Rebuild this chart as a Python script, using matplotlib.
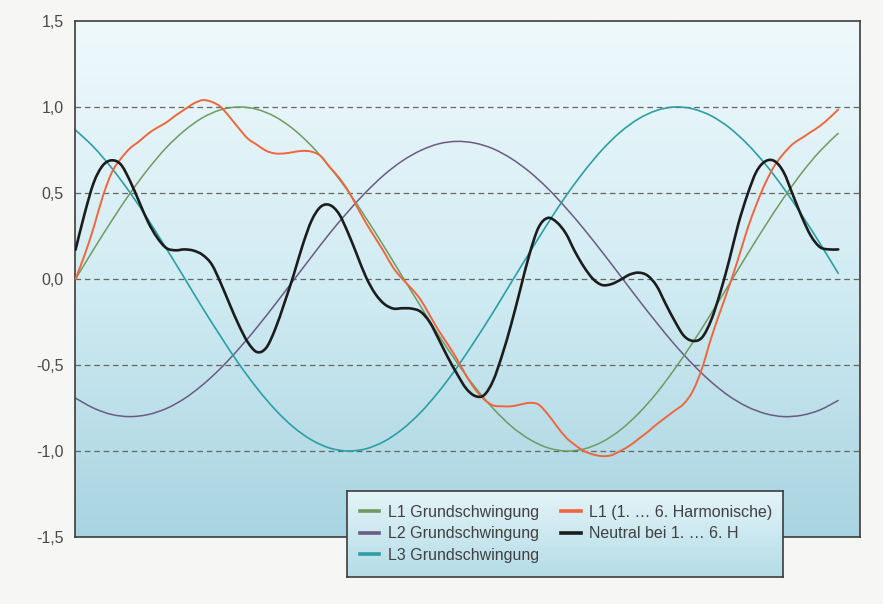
import numpy as np
import matplotlib
matplotlib.use("Agg")
import matplotlib.pyplot as plt
from matplotlib.lines import Line2D
from matplotlib.path import Path
from matplotlib.patches import PathPatch
from matplotlib.colors import LinearSegmentedColormap

plt.rcParams['font.family'] = ['Liberation Sans', 'DejaVu Sans']

# ---------------- data ----------------
winkel_grob = np.arange(0, 421, 10)   # 43 points
winkel_fein = np.arange(0, 421, 5)    # 85 points

l1_grund = [0.000, 0.173, 0.340, 0.498, 0.640, 0.764, 0.863, 0.938, 0.984, 1.000,
            0.986, 0.943, 0.871, 0.773, 0.651, 0.511, 0.354, 0.187, 0.014, -0.158,
            -0.327, -0.485, -0.629, -0.753, -0.856, -0.932, -0.981, -1.000, -0.988, -0.947,
            -0.878, -0.782, -0.663, -0.522, -0.368, -0.201, -0.030, 0.144, 0.312, 0.472,
            0.618, 0.744, 0.847]

l2_grund = [-0.693, -0.751, -0.788, -0.800, -0.788, -0.753, -0.695, -0.615, -0.518, -0.405,
            -0.280, -0.146, -0.008, 0.130, 0.266, 0.391, 0.506, 0.606, 0.687, 0.747,
            0.786, 0.800, 0.790, 0.757, 0.700, 0.623, 0.527, 0.414, 0.290, 0.157,
            0.019, -0.120, -0.254, -0.382, -0.497, -0.598, -0.681, -0.743, -0.783, -0.800,
            -0.792, -0.761, -0.706]

l3_grund = [0.866, 0.767, 0.644, 0.502, 0.345, 0.177, 0.005, -0.169, -0.335, -0.494,
            -0.636, -0.760, -0.861, -0.936, -0.983, -1.000, -0.987, -0.944, -0.873, -0.776,
            -0.655, -0.515, -0.358, -0.193, -0.019, 0.153, 0.322, 0.482, 0.625, 0.751,
            0.854, 0.931, 0.980, 1.000, 0.989, 0.949, 0.880, 0.784, 0.666, 0.527,
            0.371, 0.206, 0.033]

l1_harm = [0.00, 0.14, 0.30, 0.48, 0.62, 0.70, 0.76, 0.80, 0.845, 0.88,
           0.91, 0.95, 0.985, 1.02, 1.04, 1.03, 1.00, 0.94, 0.875, 0.815,
           0.78, 0.745, 0.73, 0.73, 0.738, 0.745, 0.74, 0.715, 0.65, 0.59,
           0.515, 0.42, 0.325, 0.24, 0.155, 0.065, 0.00, -0.055, -0.12, -0.21,
           -0.30, -0.38, -0.465, -0.56, -0.64, -0.70, -0.735, -0.74, -0.74, -0.73,
           -0.72, -0.73, -0.785, -0.855, -0.92, -0.965, -1.00, -1.02, -1.03, -1.025,
           -1.00, -0.97, -0.93, -0.89, -0.845, -0.805, -0.765, -0.725, -0.65, -0.52,
           -0.345, -0.19, -0.04, 0.12, 0.29, 0.435, 0.56, 0.66, 0.73, 0.785,
           0.82, 0.855, 0.89, 0.935, 0.985]

neutral = [0.17, 0.38, 0.56, 0.66, 0.69, 0.665, 0.57, 0.45, 0.33, 0.24,
           0.18, 0.167, 0.172, 0.165, 0.14, 0.085, -0.025, -0.15, -0.27, -0.37,
           -0.425, -0.40, -0.29, -0.14, 0.02, 0.195, 0.34, 0.42, 0.43, 0.38,
           0.27, 0.14, 0.01, -0.085, -0.145, -0.172, -0.17, -0.172, -0.19, -0.25,
           -0.35, -0.455, -0.55, -0.635, -0.68, -0.675, -0.59, -0.44, -0.26, -0.057,
           0.145, 0.30, 0.355, 0.33, 0.265, 0.16, 0.07, 0.00, -0.035, -0.03,
           -0.005, 0.025, 0.037, 0.02, -0.04, -0.145, -0.245, -0.33, -0.36, -0.34,
           -0.24, -0.08, 0.11, 0.32, 0.49, 0.625, 0.685, 0.685, 0.62, 0.49,
           0.36, 0.25, 0.185, 0.172, 0.172]

y_ticks = [-1.5, -1.0, -0.5, 0.0, 0.5, 1.0, 1.5]
y_ticklabels = ['-1,5', '-1,0', '-0,5', '0,0', '0,5', '1,0', '1,5']
grid_levels = [-1.0, -0.5, 0.0, 0.5, 1.0]

labels = ['L1 Grundschwingung', 'L2 Grundschwingung', 'L3 Grundschwingung',
          'L1 (1. \u2026 6. Harmonische)', 'Neutral bei 1. \u2026 6. H']
colors = ['#6f9a60', '#6a5b82', '#2b9fa4', '#f0663c', '#1c1c1c']
widths = [1.1, 1.1, 1.2, 1.4, 1.9]


def smooth_curve(ax, x, y, color, lw, z):
    """Draw a smooth curve through the data points (Catmull-Rom as Bezier)."""
    p = np.column_stack([np.asarray(x, float), np.asarray(y, float)])
    ext = np.vstack([p[0], p, p[-1]])
    verts = [tuple(p[0])]
    codes = [Path.MOVETO]
    for i in range(len(p) - 1):
        p0, p1, p2, p3 = ext[i], ext[i + 1], ext[i + 2], ext[i + 3]
        c1 = p1 + (p2 - p0) / 6.0
        c2 = p2 - (p3 - p1) / 6.0
        verts += [tuple(c1), tuple(c2), tuple(p2)]
        codes += [Path.CURVE4] * 3
    patch = PathPatch(Path(verts, codes), facecolor='none', edgecolor=color,
                      lw=lw, zorder=z, capstyle='round', joinstyle='round')
    ax.add_patch(patch)


# ---------------- figure ----------------
W, H = 883, 604
fig = plt.figure(figsize=(W / 100, H / 100), dpi=100, facecolor='#f6f6f4')
ax = fig.add_axes([75 / W, 1 - 537 / H, 785 / W, 516 / H])

xmin, xmax = -0.3, 432
ymin, ymax = -1.5, 1.5
grad = np.linspace(0, 1, 256).reshape(-1, 1)
bg_cmap = LinearSegmentedColormap.from_list('bg', ['#eff9fc', '#d2ecf3', '#a8d4e1'])
ax.imshow(grad, extent=[xmin, xmax, ymin, ymax], origin='upper', cmap=bg_cmap,
          aspect='auto', zorder=0, interpolation='bilinear')

for g in grid_levels:
    ax.axhline(g, color='#666666', lw=0.9, ls=(0, (4.5, 3)), zorder=1)

smooth_curve(ax, winkel_grob, l2_grund, colors[1], widths[1], 2)
smooth_curve(ax, winkel_grob, l3_grund, colors[2], widths[2], 2)
smooth_curve(ax, winkel_grob, l1_grund, colors[0], widths[0], 3)
smooth_curve(ax, winkel_fein, l1_harm, colors[3], widths[3], 4)
smooth_curve(ax, winkel_fein, neutral, colors[4], widths[4], 5)

ax.set_xlim(xmin, xmax)
ax.set_ylim(ymin, ymax)
ax.set_xticks([])
ax.set_yticks(y_ticks)
ax.set_yticklabels(y_ticklabels)
ax.tick_params(axis='y', length=0, pad=8, labelsize=11.5, labelcolor='#4a4a4a')
for s in ax.spines.values():
    s.set_color('#3c3c3c')
    s.set_linewidth(1.2)

# ---------------- legend box ----------------
lax = fig.add_axes([347 / W, 1 - 577 / H, 436 / W, 86 / H])
leg_cmap = LinearSegmentedColormap.from_list('lg', ['#e4f4f8', '#b4dce7'])
lax.imshow(grad, extent=[0, 1, 0, 1], origin='upper', cmap=leg_cmap,
           aspect='auto', interpolation='bilinear')
lax.set_xlim(0, 1)
lax.set_ylim(0, 1)
lax.set_xticks([])
lax.set_yticks([])
for s in lax.spines.values():
    s.set_color('#3c3c3c')
    s.set_linewidth(1.2)

handles = [Line2D([], [], color=c, lw=2.6) for c in colors]
leg = lax.legend(handles, labels, ncol=2, loc='upper left',
                 bbox_to_anchor=(13 / 436, 1 - 14 / 86), frameon=False,
                 borderpad=0, borderaxespad=0, handlelength=1.2,
                 handletextpad=0.55, columnspacing=1.4, labelspacing=0.4,
                 fontsize=11.5)
for t in leg.get_texts():
    t.set_color('#404040')

fig.savefig('out.png', dpi=100, facecolor=fig.get_facecolor())
